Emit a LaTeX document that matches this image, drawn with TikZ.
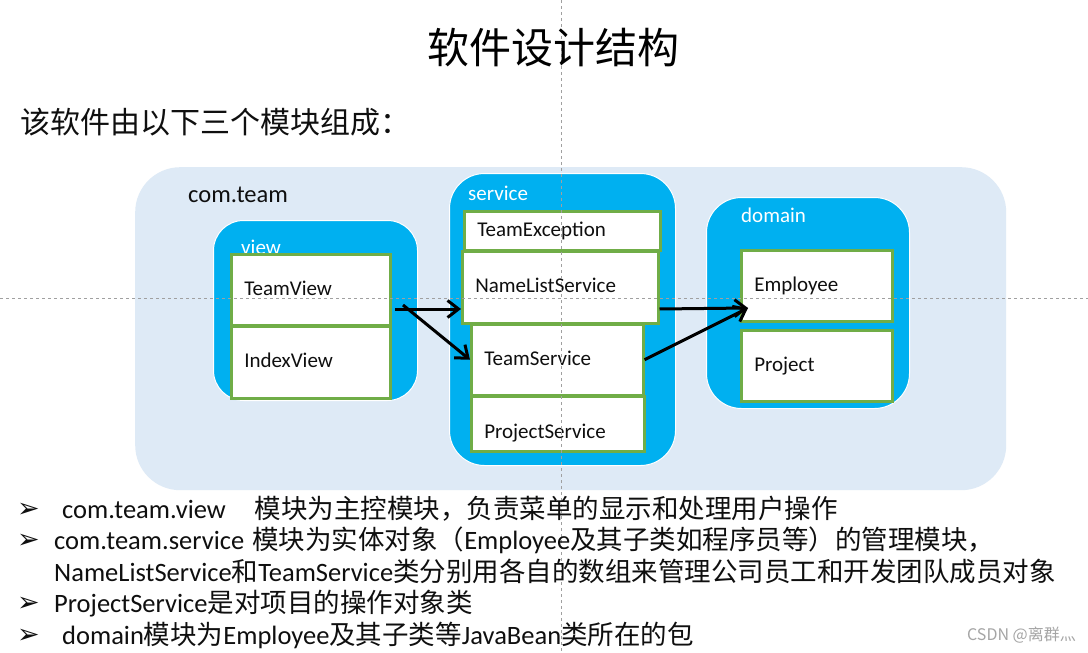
\documentclass[tikz,border=0pt]{standalone}
\usepackage{fontspec}
\setmainfont{Carlito}
\newfontfamily\cjk{Noto Sans CJK SC}
\newfontfamily\dvs{DejaVu Sans}
\usetikzlibrary{arrows.meta}
\definecolor{outerbg}{RGB}{222,234,246}
\definecolor{pkgblue}{RGB}{0,176,240}
\definecolor{clsgreen}{RGB}{112,173,71}
\definecolor{guidegray}{RGB}{160,160,160}
\definecolor{inktext}{RGB}{15,15,15}
\definecolor{wmgray}{RGB}{165,165,165}
\newcommand\zh[1]{{\cjk #1}}
\newcommand\fs[1]{\fontsize{#1}{#1}\selectfont}
\begin{document}
\begin{tikzpicture}[x=1pt,y=-1pt,
  outerbox/.style={fill=outerbg, rounded corners=45pt, inner sep=0pt, anchor=north west},
  pkgbox/.style={fill=pkgblue, draw=white, line width=1pt, inner sep=0pt, anchor=north west},
  pkglabel/.style={anchor=west, text=white, font=\fs{21}, inner sep=0pt},
  clsbox/.style={draw=clsgreen, line width=2.5pt, fill=white, inner xsep=13pt, inner ysep=0pt,
    align=left, anchor=north west, font=\fs{21}, text=inktext, text height=15pt, text depth=4pt},
  link/.style={line width=3pt, -{Straight Barb[length=11pt,width=17pt]}},
  guide/.style={draw=guidegray, line width=0.8pt, dash pattern=on 3pt off 3pt},
  bulletmark/.style={anchor=base west, inner sep=0pt, font=\dvs\fs{27}, text=inktext},
  bullettext/.style={anchor=base west, inner sep=0pt, font=\fs{26.5}, text=inktext},
  ]
\useasboundingbox[fill=white] (0,0) rectangle (1088,653);

% outer package
\node[outerbox, minimum width=871pt, minimum height=323pt] (comteam) at (135,167) {};
\node[anchor=west, inner sep=0pt, font=\fs{24.5}, text=inktext] (comteamlbl) at (188,195) {com.team};

% sub packages
\node[pkgbox, rounded corners=30pt, minimum width=204pt, minimum height=180pt] (viewpkg) at (213,220) {};
\node[pkgbox, rounded corners=35pt, minimum width=226pt, minimum height=292pt] (servicepkg) at (449,173) {};
\node[pkgbox, rounded corners=35pt, minimum width=203pt, minimum height=211pt] (domainpkg) at (706,197) {};
\node[pkglabel] (viewlbl) at (241,247) {view};
\node[pkglabel] (servicelbl) at (468,193) {service};
\node[pkglabel] (domainlbl) at (741,215) {domain};

% classes
\node[clsbox, text width=133pt, minimum height=71pt] (tv) at (230,253) {TeamView};
\node[clsbox, text width=133pt, minimum height=72pt] (iv) at (230,325) {IndexView};
\node[clsbox, text width=170pt, minimum height=39pt] (te) at (463,210) {TeamException};
\node[clsbox, text width=170pt, minimum height=72pt] (nls) at (461,250) {NameListService};
\node[clsbox, text width=146pt, minimum height=71pt] (ts) at (470,323) {TeamService};
\node[clsbox, text width=147pt, minimum height=55pt, text height=33pt] (ps) at (470,395) {ProjectService};
\node[clsbox, text width=125pt, minimum height=71pt] (emp) at (740,249) {Employee};
\node[clsbox, text width=125pt, minimum height=71pt] (proj) at (740,329) {Project};

% connectors
\coordinate (tvout) at (395,309);
\coordinate (tvout2) at (403,305);
\coordinate (empin) at (748,308);
\draw[link] (tvout) -- (nls.west |- tvout);
\draw[link] (tvout2) -- (ts.west);
\draw[link] (nls.east |- tvout) -- (empin);
\draw[link] (ts.east) -- (empin);

% guides
\draw[guide] (561,0) -- (561,653);
\draw[guide] (0,298) -- (1088,298);

% title
\node[anchor=base, inner sep=0pt, font=\cjk\fs{42}, text=black] (title) at (553,63) {软件设计结构};
\node[anchor=base west, inner sep=0pt, font=\cjk\fs{30}, text=inktext] (subtitle) at (20,133.5) {该软件由以下三个模块组成：};

% bullets
\node[bulletmark] (m1) at (17,517) {➢};
\node[bulletmark] (m2) at (17,548.5) {➢};
\node[bulletmark] (m4) at (17,611.5) {➢};
\node[bulletmark] (m5) at (17,643) {➢};
\node[bullettext] (l1) at (62,518) {com.team.view\hspace{29pt}\zh{模块为主控模块，负责菜单的显示和处理用户操作}};
\node[bullettext] (l2) at (54,549.5) {com.team.service\hspace{8pt}\zh{模块为实体对象（}Employee\zh{及其子类如程序员等）的管理模块，}};
\node[bullettext] (l3) at (54,581) {NameListService\zh{和}TeamService\zh{类分别用各自的数组来管理公司员工和开发团队成员对象}};
\node[bullettext] (l4) at (54,612.5) {ProjectService\zh{是对项目的操作对象类}};
\node[bullettext] (l5) at (62,644) {domain\zh{模块为}Employee\zh{及其子类等}JavaBean\zh{类所在的包}};

% watermark
\node[anchor=base east, inner sep=0pt, font=\cjk\fs{16}, text=wmgray] (wm) at (1076,640) {CSDN @离群灬};
\end{tikzpicture}
\end{document}
